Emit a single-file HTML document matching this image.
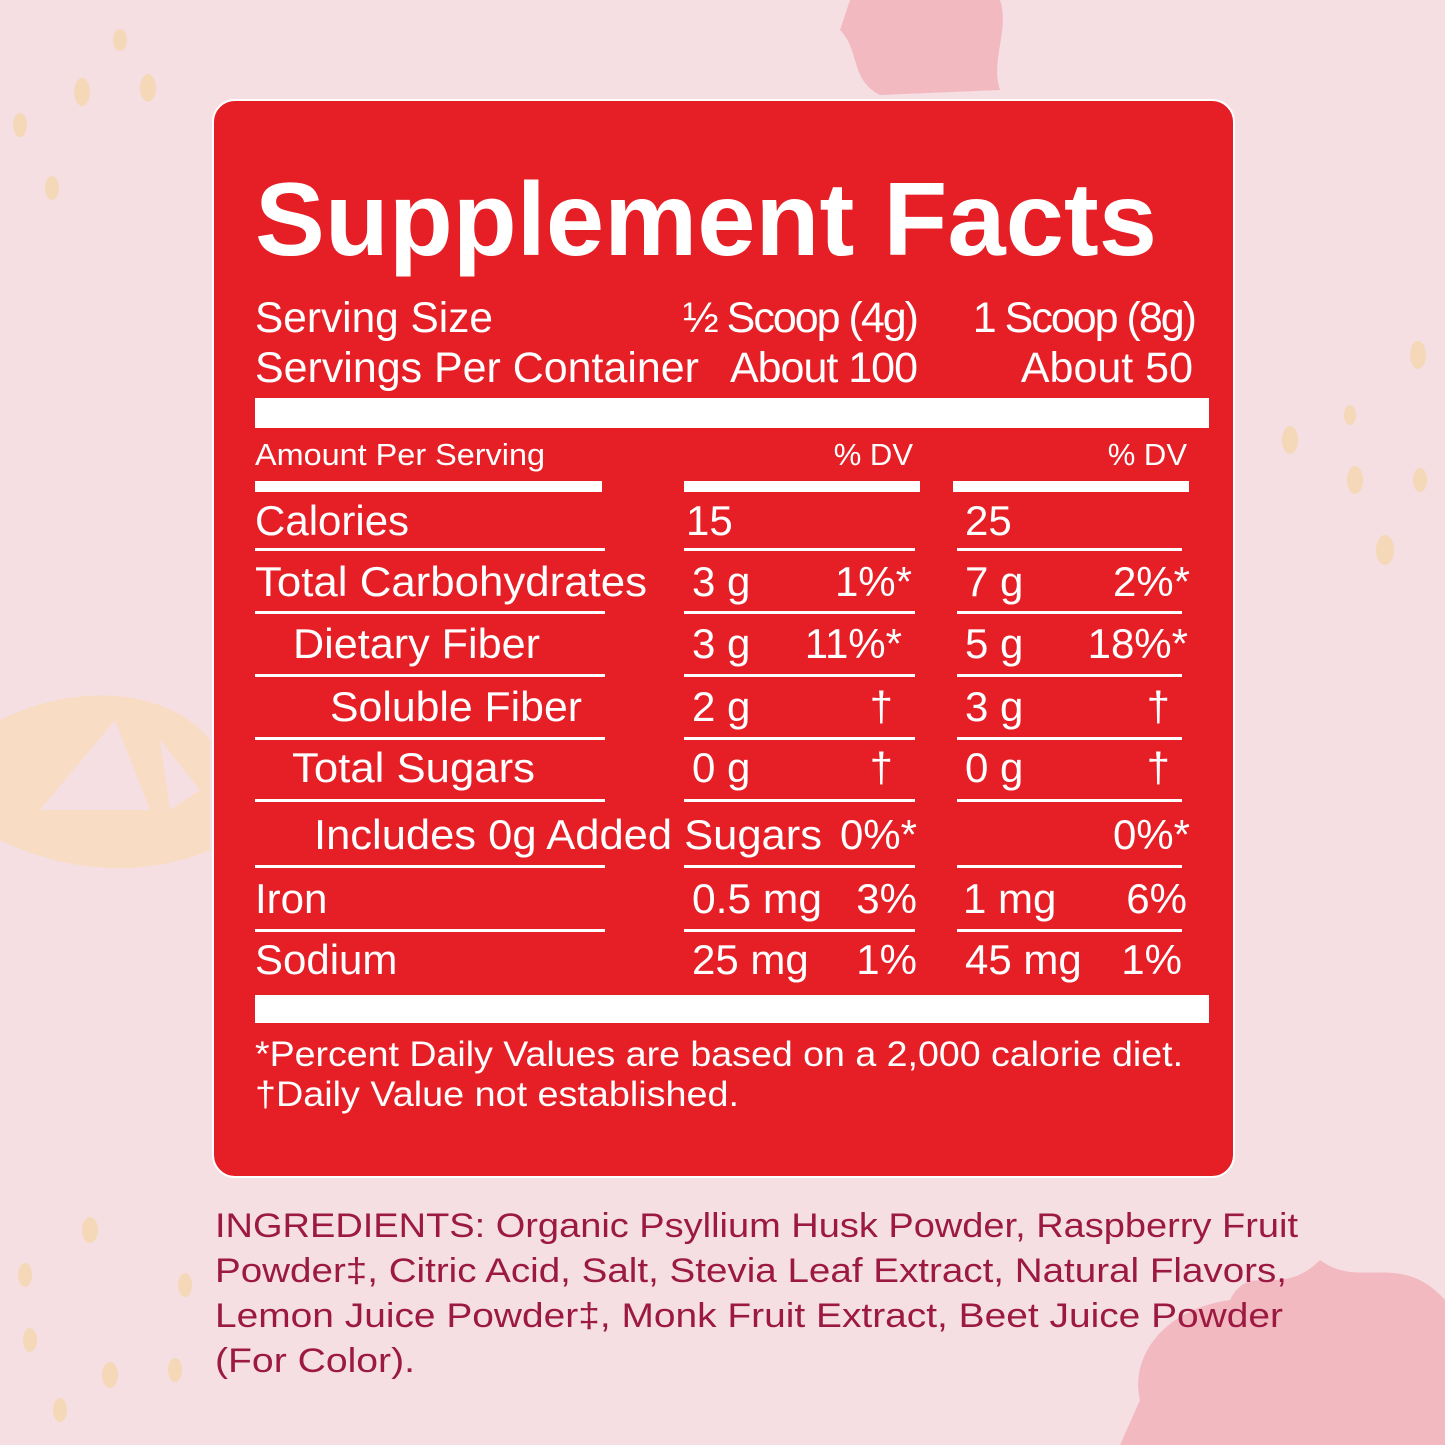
<!DOCTYPE html><html><head><meta charset="utf-8"><style>body{margin:0}svg{display:block}</style></head><body>
<svg width="1445" height="1445" viewBox="0 0 1445 1445" xmlns="http://www.w3.org/2000/svg" font-family="Liberation Sans, sans-serif">
<rect width="1445" height="1445" fill="#f5dfe3"/>
<g fill="#f2b9c1">
<path d="M850 0 L1000 0 C1010 30 990 60 1000 90 L880 95 C850 80 860 50 840 30 Z"/>
<path d="M1120 1445 L1445 1445 L1445 1300 C1400 1250 1360 1290 1320 1260 C1280 1300 1250 1260 1230 1300 C1160 1310 1130 1360 1140 1400 Z"/>
</g>
<g fill="#f8dcc4">
<path d="M0 720 C80 680 170 690 210 740 L210 850 C140 880 60 870 0 840 Z"/>
</g>
<g fill="#f5dfe3"><path d="M40 810 L115 720 L150 810 Z"/><path d="M160 740 L200 790 L170 810 Z"/></g>
<g fill="#f5d8b8">
<ellipse cx="82" cy="92" rx="8" ry="14"/><ellipse cx="148" cy="88" rx="8" ry="14"/><ellipse cx="20" cy="125" rx="7" ry="12"/><ellipse cx="52" cy="188" rx="7" ry="12"/><ellipse cx="120" cy="40" rx="7" ry="11"/>
<ellipse cx="1418" cy="355" rx="8" ry="14"/><ellipse cx="1290" cy="440" rx="8" ry="14"/><ellipse cx="1355" cy="480" rx="8" ry="14"/><ellipse cx="1385" cy="550" rx="9" ry="15"/><ellipse cx="1420" cy="480" rx="7" ry="12"/><ellipse cx="1350" cy="415" rx="6" ry="10"/>
<ellipse cx="90" cy="1230" rx="8" ry="13"/><ellipse cx="25" cy="1275" rx="7" ry="12"/><ellipse cx="185" cy="1285" rx="7" ry="12"/><ellipse cx="30" cy="1340" rx="7" ry="12"/><ellipse cx="110" cy="1375" rx="8" ry="13"/><ellipse cx="175" cy="1370" rx="7" ry="12"/><ellipse cx="60" cy="1410" rx="7" ry="12"/>
</g>
<rect x="213" y="100" width="1021" height="1077" rx="22" fill="#e61e26" stroke="#fff" stroke-width="2"/>
<g fill="#fff">
<text x="255" y="255" font-size="104" font-weight="bold" textLength="902" lengthAdjust="spacingAndGlyphs">Supplement Facts</text>
<g font-size="43">
<text x="255" y="332" textLength="238" lengthAdjust="spacingAndGlyphs">Serving Size</text>
<text x="917" y="332" text-anchor="end" letter-spacing="-2">½ Scoop (4g)</text>
<text x="1195" y="332" text-anchor="end" letter-spacing="-2">1 Scoop (8g)</text>
<text x="255" y="382" textLength="444" lengthAdjust="spacingAndGlyphs">Servings Per Container</text>
<text x="917" y="382" text-anchor="end" letter-spacing="-1">About 100</text>
<text x="1193" y="382" text-anchor="end">About 50</text>
</g>
<rect x="255" y="398" width="954" height="30"/>
<g font-size="31">
<text x="255" y="465" textLength="290" lengthAdjust="spacingAndGlyphs">Amount Per Serving</text>
<text x="913" y="465" text-anchor="end">% DV</text>
<text x="1187" y="465" text-anchor="end">% DV</text>
</g>
<rect x="255" y="481" width="347" height="11"/><rect x="684" y="481" width="236" height="11"/><rect x="953" y="481" width="236" height="11"/>
<g font-size="42">
<text x="255" y="535">Calories</text><text x="686" y="535">15</text><text x="965" y="535">25</text>
<text x="255" y="596" textLength="392" lengthAdjust="spacingAndGlyphs">Total Carbohydrates</text><text x="692" y="596">3 g</text><text x="912" y="596" text-anchor="end">1%*</text><text x="965" y="596">7 g</text><text x="1190" y="596" text-anchor="end">2%*</text>
<text x="293" y="658" textLength="247" lengthAdjust="spacingAndGlyphs">Dietary Fiber</text><text x="692" y="658">3 g</text><text x="902" y="658" text-anchor="end">11%*</text><text x="965" y="658">5 g</text><text x="1188" y="658" text-anchor="end">18%*</text>
<text x="330" y="721" textLength="252" lengthAdjust="spacingAndGlyphs">Soluble Fiber</text><text x="692" y="721">2 g</text><text x="893" y="721" text-anchor="end">†</text><text x="965" y="721">3 g</text><text x="1170" y="721" text-anchor="end">†</text>
<text x="292" y="782" textLength="243" lengthAdjust="spacingAndGlyphs">Total Sugars</text><text x="692" y="782">0 g</text><text x="893" y="782" text-anchor="end">†</text><text x="965" y="782">0 g</text><text x="1170" y="782" text-anchor="end">†</text>
<text x="314" y="849" textLength="508" lengthAdjust="spacingAndGlyphs">Includes 0g Added Sugars</text><text x="917" y="849" text-anchor="end">0%*</text><text x="1190" y="849" text-anchor="end">0%*</text>
<text x="255" y="913">Iron</text><text x="692" y="913" textLength="130" lengthAdjust="spacingAndGlyphs">0.5 mg</text><text x="917" y="913" text-anchor="end">3%</text><text x="963" y="913">1 mg</text><text x="1187" y="913" text-anchor="end">6%</text>
<text x="255" y="974">Sodium</text><text x="692" y="974">25 mg</text><text x="917" y="974" text-anchor="end">1%</text><text x="965" y="974">45 mg</text><text x="1182" y="974" text-anchor="end">1%</text>
</g>
<g>
<rect x="255" y="548" width="350" height="3"/><rect x="684" y="548" width="231" height="3"/><rect x="957" y="548" width="225" height="3"/>
<rect x="255" y="611" width="350" height="3"/><rect x="684" y="611" width="231" height="3"/><rect x="957" y="611" width="225" height="3"/>
<rect x="255" y="674" width="350" height="3"/><rect x="684" y="674" width="231" height="3"/><rect x="957" y="674" width="225" height="3"/>
<rect x="255" y="737" width="350" height="3"/><rect x="684" y="737" width="231" height="3"/><rect x="957" y="737" width="225" height="3"/>
<rect x="255" y="799" width="350" height="3"/><rect x="684" y="799" width="231" height="3"/><rect x="957" y="799" width="225" height="3"/>
<rect x="255" y="865" width="350" height="3"/><rect x="684" y="865" width="231" height="3"/><rect x="957" y="865" width="225" height="3"/>
<rect x="255" y="929" width="350" height="3"/><rect x="684" y="929" width="231" height="3"/><rect x="957" y="929" width="225" height="3"/>
</g>
<rect x="255" y="995" width="954" height="28"/>
<g font-size="35">
<text x="255" y="1066" textLength="928" lengthAdjust="spacingAndGlyphs">*Percent Daily Values are based on a 2,000 calorie diet.</text>
<text x="255" y="1106" textLength="484" lengthAdjust="spacingAndGlyphs">†Daily Value not established.</text>
</g>
</g>
<g fill="#9c1a42" font-size="34">
<text x="215" y="1237" textLength="1083" lengthAdjust="spacingAndGlyphs">INGREDIENTS: Organic Psyllium Husk Powder, Raspberry Fruit</text>
<text x="215" y="1282" textLength="1072" lengthAdjust="spacingAndGlyphs">Powder‡, Citric Acid, Salt, Stevia Leaf Extract, Natural Flavors,</text>
<text x="215" y="1327" textLength="1068" lengthAdjust="spacingAndGlyphs">Lemon Juice Powder‡, Monk Fruit Extract, Beet Juice Powder</text>
<text x="215" y="1372" textLength="200" lengthAdjust="spacingAndGlyphs">(For Color).</text>
</g>
</svg>
</body></html>
